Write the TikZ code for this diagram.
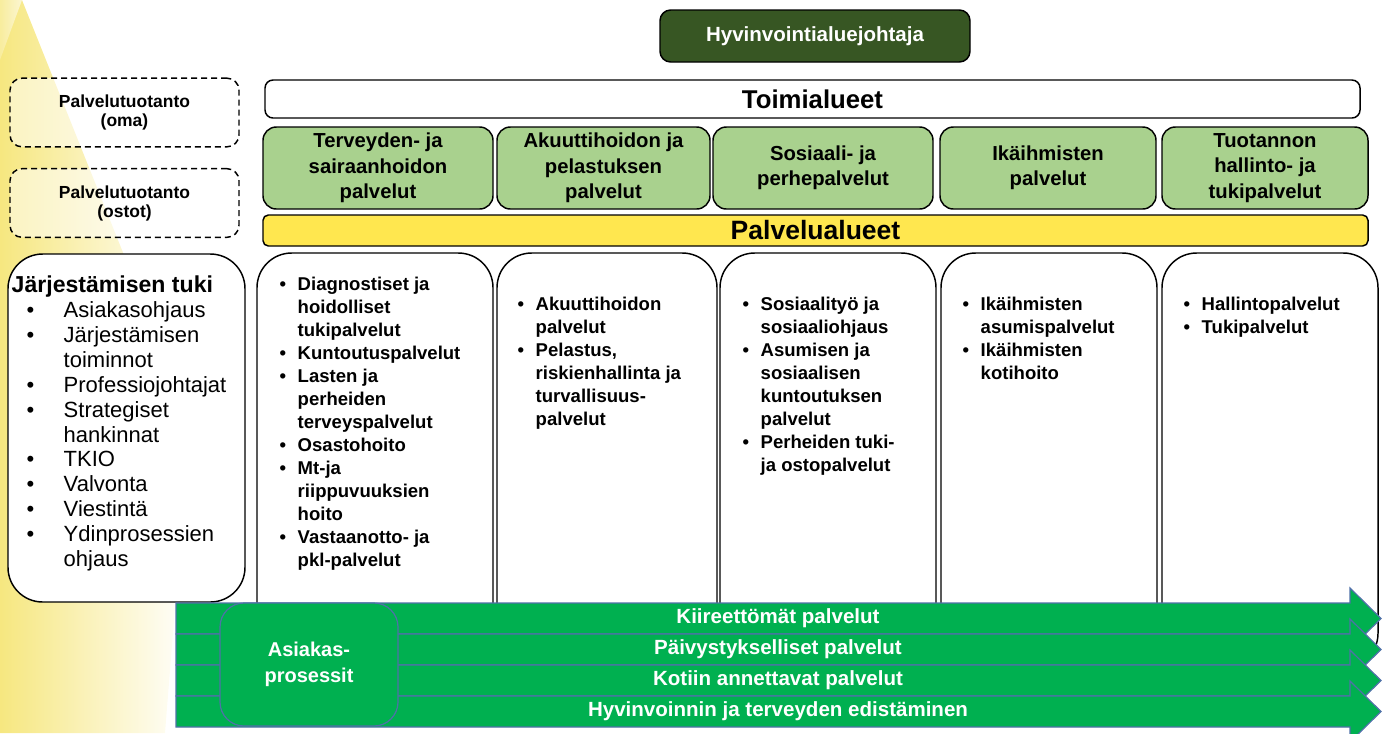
\documentclass[tikz,border=0pt]{standalone}
\usepackage{fontspec}
\setmainfont{Liberation Sans}

\definecolor{leadgreen}{HTML}{375623}
\definecolor{areagreen}{HTML}{A9D18E}
\definecolor{areayellow}{HTML}{FFE74F}
\definecolor{flowgreen}{HTML}{00B050}
\definecolor{flowblue}{HTML}{4F71A8}
\definecolor{glowyellow}{HTML}{F3DF55}

\newcommand{\bul}{\makebox[13.5pt][l]{\textbullet}}
\newcommand{\ind}{\hspace*{13.5pt}}
\newcommand{\lbul}{\hspace*{11.25pt}\makebox[27.75pt][l]{\textbullet}}
\newcommand{\lind}{\hspace*{39pt}}

\begin{document}
\begin{tikzpicture}[x=0.75pt,y=-0.75pt,line width=1.1pt,inner sep=0pt]

  \tikzstyle{box}=[draw,align=center]
  \tikzstyle{chief}=[box,fill=leadgreen,text=white,rounded corners=8pt,
                     minimum width=232.5pt,minimum height=39pt,
                     font=\fontsize{15.4}{18}\selectfont\bfseries]
  \tikzstyle{band}=[box,fill=white,rounded corners=6pt]
  \tikzstyle{prod}=[box,dash pattern=on 4.5pt off 3pt,rounded corners=9pt,
                    minimum width=171.75pt,minimum height=51.5pt,
                    font=\fontsize{13.1}{14.25}\selectfont\bfseries]
  \tikzstyle{area}=[box,fill=areagreen,rounded corners=10pt,minimum height=61.5pt,
                    font=\fontsize{15.2}{19.1}\selectfont\bfseries]
  \tikzstyle{column}=[draw,fill=white,rounded corners=26pt,minimum height=311.25pt]
  \tikzstyle{items}=[anchor=north west,align=left,
                     font=\fontsize{13.9}{17.25}\selectfont\bfseries]
  \tikzstyle{flow}=[draw=flowblue,fill=flowgreen,line width=0.9pt]
  \tikzstyle{flowtext}=[text=white,font=\fontsize{15.4}{18}\selectfont\bfseries]

  \useasboundingbox (0,0) rectangle (1392,733);
  \shade[left color=glowyellow!75,right color=white]
    (0,0) -- (22,0) -- (190,420) -- (165,733) -- (0,733) -- cycle;
  \shade[left color=glowyellow!45,right color=white,opacity=0.6]
    (0,0) -- (22,0) -- (0,60) -- cycle;

  \node[chief] (chief) at (815,36) {Hyvinvointialuejohtaja};
  \node[band,minimum width=821.25pt,minimum height=28.5pt,
        font=\fontsize{19.3}{22}\selectfont\bfseries] (toimi) at (812.5,99) {Toimialueet};

  \node[prod,fill=white,fill opacity=0.5,text opacity=1] (oma)   at (124.5,112.5) {Palvelutuotanto\\(oma)};
  \node[prod,fill=white,fill opacity=0.5,text opacity=1] (ostot) at (124.5,203)   {Palvelutuotanto\\(ostot)};

  \node[area,minimum width=172.5pt] (terv)  at (378,168)  {Terveyden- ja\\sairaanhoidon\\palvelut};
  \node[area,minimum width=159.75pt] (akuut) at (603.5,168) {Akuuttihoidon ja\\pelastuksen\\palvelut};
  \node[area,minimum width=165pt]   (sos)   at (823,168)  {Sosiaali- ja\\perhepalvelut};
  \node[area,minimum width=162pt]   (ika)   at (1048,168) {Ikäihmisten\\palvelut};
  \node[area,minimum width=154.5pt] (tuot)  at (1265,168) {Tuotannon\\hallinto- ja\\tukipalvelut};

  \node[band,fill=areayellow,rounded corners=4pt,minimum width=828.75pt,minimum height=23.25pt,
        font=\fontsize{19.9}{22}\selectfont\bfseries] (palv) at (815.5,230.5) {Palvelualueet};

  \node[column,minimum width=177pt] (col1) at (375,460.5)  {};
  \node[column,minimum width=165pt] (col2) at (607,460.5)  {};
  \node[column,minimum width=162pt] (col3) at (828,460.5)  {};
  \node[column,minimum width=162pt] (col4) at (1049,460.5) {};
  \node[column,minimum width=162pt] (col5) at (1270,460.5) {};

  \node[items] (list1) at (279,276) {\bul Diagnostiset ja\\\ind hoidolliset\\\ind tukipalvelut\\
    \bul Kuntoutuspalvelut\\\bul Lasten ja\\\ind perheiden\\\ind terveyspalvelut\\
    \bul Osastohoito\\\bul Mt-ja\\\ind riippuvuuksien\\\ind hoito\\
    \bul Vastaanotto- ja\\\ind pkl-palvelut};
  \node[items] (list2) at (517,296.5) {\bul Akuuttihoidon\\\ind palvelut\\
    \bul Pelastus,\\\ind riskienhallinta ja\\\ind turvallisuus-\\\ind palvelut};
  \node[items] (list3) at (742,296.5) {\bul Sosiaalityö ja\\\ind sosiaaliohjaus\\
    \bul Asumisen ja\\\ind sosiaalisen\\\ind kuntoutuksen\\\ind palvelut\\
    \bul Perheiden tuki-\\\ind ja ostopalvelut};
  \node[items] (list4) at (962,296.5) {\bul Ikäihmisten\\\ind asumispalvelut\\
    \bul Ikäihmisten\\\ind kotihoito};
  \node[items] (list5) at (1183,296.5) {\bul Hallintopalvelut\\\bul Tukipalvelut};

  \node[column,minimum width=177.75pt,minimum height=261pt] (tuki) at (126.5,428) {};
  \node[anchor=north west,align=left,font=\fontsize{16.5}{18.7}\selectfont] (tukilist) at (11,275)
    {{\fontsize{17.3}{18.7}\selectfont\bfseries Järjestämisen tuki}\\
     \lbul Asiakasohjaus\\\lbul Järjestämisen\\\lind toiminnot\\
     \lbul Professiojohtajat\\\lbul Strategiset\\\lind hankinnat\\
     \lbul TKIO\\\lbul Valvonta\\\lbul Viestintä\\
     \lbul Ydinprosessien\\\lind ohjaus};

  % asiakasprosessien nuolet
  \foreach \ytop/\txt [count=\i] in {603/Kiireettömät palvelut,634/Päivystykselliset palvelut,
                                     665/Kotiin annettavat palvelut,696/Hyvinvoinnin ja terveyden edistäminen}
  {
    \draw[flow] (176,\ytop) -- (1350,\ytop) -- (1350,\ytop-15) -- (1381,\ytop+15.5)
      -- (1350,\ytop+46) -- (1350,\ytop+31) -- (176,\ytop+31) -- cycle;
    \node[flowtext] (flow\i) at (778,\ytop+15.5) {\txt};
  }

  \node[box,draw=flowblue,fill=flowgreen,text=white,rounded corners=18pt,line width=0.9pt,
        minimum width=133.5pt,minimum height=92.25pt,
        font=\fontsize{15}{19.5}\selectfont\bfseries] (asiakas) at (309,664.5) {Asiakas-\\prosessit};

\end{tikzpicture}
\end{document}
